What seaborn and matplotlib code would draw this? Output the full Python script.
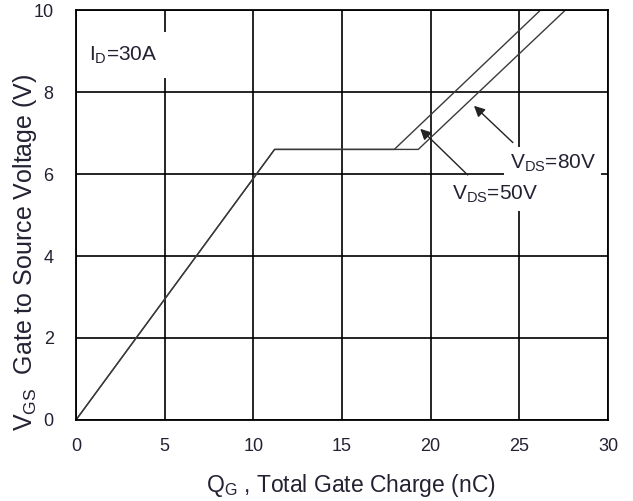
import matplotlib
matplotlib.use("Agg")
import matplotlib.pyplot as plt
import seaborn as sns
import pandas as pd

# Data
q_80v = [0.0, 11.2, 19.3, 27.6]
v_80v = [0.0, 6.6, 6.6, 10.0]
q_50v = [0.0, 11.2, 17.95, 26.2]
v_50v = [0.0, 6.6, 6.6, 10.0]
x_ticks = [0, 5, 10, 15, 20, 25, 30]
y_ticks = [0, 2, 4, 6, 8, 10]

sns.set_theme(style="white")
plt.rcParams['font.family'] = ['Liberation Sans', 'DejaVu Sans']
plt.rcParams['mathtext.fontset'] = 'custom'
plt.rcParams['mathtext.rm'] = 'Liberation Sans'
plt.rcParams['mathtext.it'] = 'Liberation Sans:italic'

fig = plt.figure(figsize=(6.33, 5.01), dpi=100)
ax = fig.add_axes([0.12, 0.1617, 0.8405, 0.8183])

df80 = pd.DataFrame({"q": q_80v, "v": v_80v})
df50 = pd.DataFrame({"q": q_50v, "v": v_50v})
sns.lineplot(data=df80, x="q", y="v", sort=False, color="#3a3a3a", lw=1.0, ax=ax, zorder=2)
sns.lineplot(data=df50, x="q", y="v", sort=False, color="#3a3a3a", lw=1.0, ax=ax, zorder=2)

ax.set_xlim(0, 30)
ax.set_ylim(0, 10)
ax.set_xticks(x_ticks)
ax.set_yticks(y_ticks)
ax.grid(True, color="black", lw=1.2)
ax.set_axisbelow(True)
for s in ax.spines.values():
    s.set_color("black")
    s.set_linewidth(1.3)
    s.set_visible(True)

tc = "#222233"
ax.tick_params(axis="both", length=0, labelsize=13, colors=tc)
ax.tick_params(axis="x", pad=13)
ax.tick_params(axis="y", pad=16)

ax.set_xlabel(r"Q$_{\mathrm{G}}$ , Total Gate Charge (nC)", fontsize=16.5, color=tc)
ax.set_ylabel(r"V$_{\mathrm{GS}}$  Gate to Source Voltage (V)", fontsize=18, color=tc)
ax.xaxis.set_label_coords(0.517, -0.128)
ax.yaxis.set_label_coords(-0.07, 0.41)

bb = dict(facecolor="white", edgecolor="none", pad=4)
ax.text(0.75, 8.9, r"I$_{\mathrm{D}}$=30A", fontsize=15, color=tc, ha="left", va="center",
        bbox=dict(facecolor="white", edgecolor="none", pad=9), zorder=3)

ax.annotate("", xy=(22.33, 7.71), xytext=(24.75, 6.72),
            arrowprops=dict(arrowstyle="-|>", color="#222222", lw=1.0, mutation_scale=16), zorder=4)
ax.annotate("", xy=(19.3, 7.15), xytext=(22.2, 5.93),
            arrowprops=dict(arrowstyle="-|>", color="#222222", lw=1.0, mutation_scale=16), zorder=4)

ax.text(24.45, 6.25, r"V$_{\mathrm{DS}}$=80V", fontsize=15, color=tc, ha="left", va="center",
        bbox=bb, zorder=3)
ax.text(21.2, 5.5, r"V$_{\mathrm{DS}}$=50V", fontsize=15, color=tc, ha="left", va="center",
        bbox=bb, zorder=3)

fig.savefig("out.png", dpi=100)
